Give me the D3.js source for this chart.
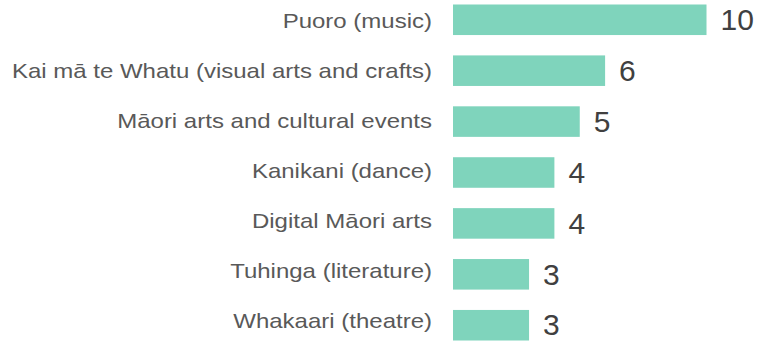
<!DOCTYPE html>
<html>
<head>
<meta charset="utf-8">
<script src="https://cdn.jsdelivr.net/npm/d3@7"></script>
<style>
  html, body { margin: 0; padding: 0; background: #fff; }
  svg { display: block; }
</style>
</head>
<body>
<svg id="chart" width="762" height="342"></svg>
<script>
// Number of projects by art form
const categories = [
  "Puoro (music)",
  "Kai mā te Whatu (visual arts and crafts)",
  "Māori arts and cultural events",
  "Kanikani (dance)",
  "Digital Māori arts",
  "Tuhinga (literature)",
  "Whakaari (theatre)"
];
const counts = [10, 6, 5, 4, 4, 3, 3];

const FONT = "'Liberation Sans', Arial, sans-serif";
const svg = d3.select("#chart");

const x = d3.scaleLinear().domain([0, 10]).range([453, 706.5]);
const y = d3.scaleBand().domain(categories).range([4.5, 340.5]).paddingInner(0.4).paddingOuter(0);
// baselines of the category labels
const yLabel = d3.scalePoint().domain(categories).range([28.3, 327.7]);

const rows = svg.selectAll("g.row")
  .data(categories.map((c, i) => ({ c, v: counts[i] })))
  .join("g")
  .attr("class", "row");

rows.append("rect")
  .attr("x", x(0))
  .attr("y", d => y(d.c))
  .attr("width", d => x(d.v) - x(0))
  .attr("height", y.bandwidth())
  .attr("fill", "#7fd4bc");

rows.append("text")
  .attr("transform", d => `translate(${x(0) - 21},${yLabel(d.c)}) scale(1.143,1)`)
  .attr("text-anchor", "end")
  .attr("font-family", FONT)
  .attr("font-size", 21)
  .attr("fill", "#595959")
  .text(d => d.c);

rows.append("text")
  .attr("x", d => x(d.v) + 14)
  .attr("y", d => y(d.c) + y.bandwidth() / 2)
  .attr("dy", "0.34em")
  .attr("font-family", FONT)
  .attr("font-size", 30)
  .attr("fill", "#404040")
  .text(d => d.v);
</script>
</body>
</html>
